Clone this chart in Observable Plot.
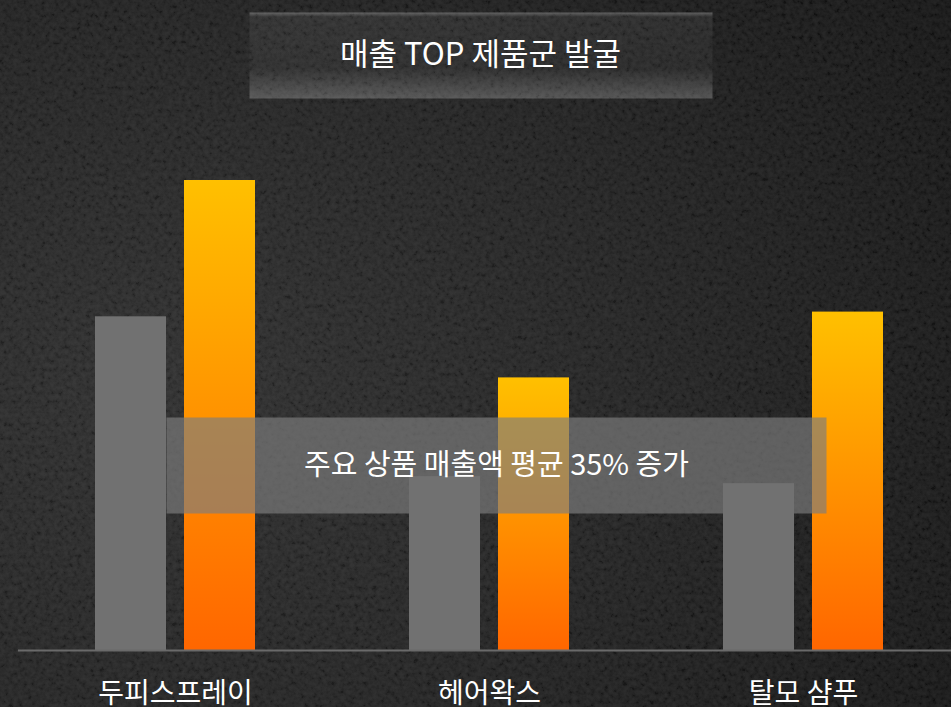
<!DOCTYPE html>
<html><head><meta charset="utf-8">
<script src="https://cdn.jsdelivr.net/npm/d3@7"></script>
<script src="https://cdn.jsdelivr.net/npm/@observablehq/plot@0.6"></script>
<style>
html,body{margin:0;padding:0;background:#1c1c1c;overflow:hidden;}
</style></head>
<body><div id="chart"></div>
<script>
const title = "매출 TOP 제품군 발굴";
const note = "주요 상품 매출액 평균 35% 증가";
const groups = ["두피스프레이", "헤어왁스", "탈모 샴푸"];
const before = [71, 37, 35.5];
const after = [100, 58, 72];

const data = groups.map((g, i) => ({group: g, before: before[i], after: after[i]}));
const font = "'Noto Sans CJK KR', 'Noto Sans', sans-serif";

const chart = Plot.plot({
  width: 951, height: 707,
  marginLeft: 18, marginRight: 0, marginTop: 180, marginBottom: 57,
  style: {background: "transparent", fontFamily: font, color: "white"},
  x: {domain: groups, paddingInner: 0.4904, paddingOuter: 0.2308, align: 0.531, axis: null},
  y: {domain: [0, 100], axis: null},
  marks: [
    // title box
    Plot.frame({fill: "url(#titleGrad)", stroke: "none", insetLeft: 231, insetRight: 239, insetTop: -168, insetBottom: 552}),
    Plot.text([title], {frameAnchor: "top", dx: -4.5, dy: -125, lineAnchor: "middle", fill: "white", fontSize: 31}),
    // after bars (beneath overlay)
    Plot.barY(data, {x: "group", y: "after", fill: "url(#orangeGrad)", insetLeft: 89}),
    // overlay box
    Plot.frame({fill: "#7d7d7d", fillOpacity: 0.67, stroke: "none", insetLeft: 148, insetRight: 125, insetTop: 237, insetBottom: 137}),
    // before bars (above overlay)
    Plot.barY(data, {x: "group", y: "before", fill: "#717171", insetRight: 89}),
    Plot.text([note], {frameAnchor: "middle", dx: 11.5, dy: 50, lineAnchor: "middle", fill: "white", fontSize: 29}),
    Plot.ruleY([0], {stroke: "#6a6a6a", strokeWidth: 2}),
    Plot.text(groups, {x: d => d, frameAnchor: "bottom", dy: 44, lineAnchor: "middle", fill: "white", fontSize: 28})
  ]
});

const ns = "http://www.w3.org/2000/svg";
const bg = document.createElementNS(ns, "g");
bg.innerHTML = `
<defs>
  <radialGradient id="bgGrad" cx="0.18" cy="0.55" r="0.95">
    <stop offset="0" stop-color="#2a2a2a"/>
    <stop offset="0.5" stop-color="#1f1f1f"/>
    <stop offset="1" stop-color="#111111"/>
  </radialGradient>
  <linearGradient id="orangeGrad" x1="0" y1="0" x2="0" y2="1">
    <stop offset="0" stop-color="#FFC000"/>
    <stop offset="1" stop-color="#FF6600"/>
  </linearGradient>
  <linearGradient id="titleGrad" x1="0" y1="0" x2="0" y2="1">
    <stop offset="0" stop-color="#ffffff" stop-opacity="0.28"/>
    <stop offset="0.05" stop-color="#ffffff" stop-opacity="0.06"/>
    <stop offset="0.65" stop-color="#ffffff" stop-opacity="0.04"/>
    <stop offset="1" stop-color="#ffffff" stop-opacity="0.22"/>
  </linearGradient>
  <filter id="noise" x="0" y="0" width="100%" height="100%">
    <feTurbulence type="fractalNoise" baseFrequency="0.22" numOctaves="3" seed="7"/>
    <feColorMatrix type="matrix" values="1.8 0 0 0 -0.4  1.8 0 0 0 -0.4  1.8 0 0 0 -0.4  0 0 0 0 1"/>
  </filter>
</defs>
<rect x="0" y="0" width="951" height="707" fill="url(#bgGrad)"/>
<rect x="0" y="0" width="951" height="707" fill="#fff" filter="url(#noise)" opacity="0.08"/>
`;
chart.insertBefore(bg, chart.firstChild);
document.getElementById("chart").appendChild(chart);
</script>
</body></html>
